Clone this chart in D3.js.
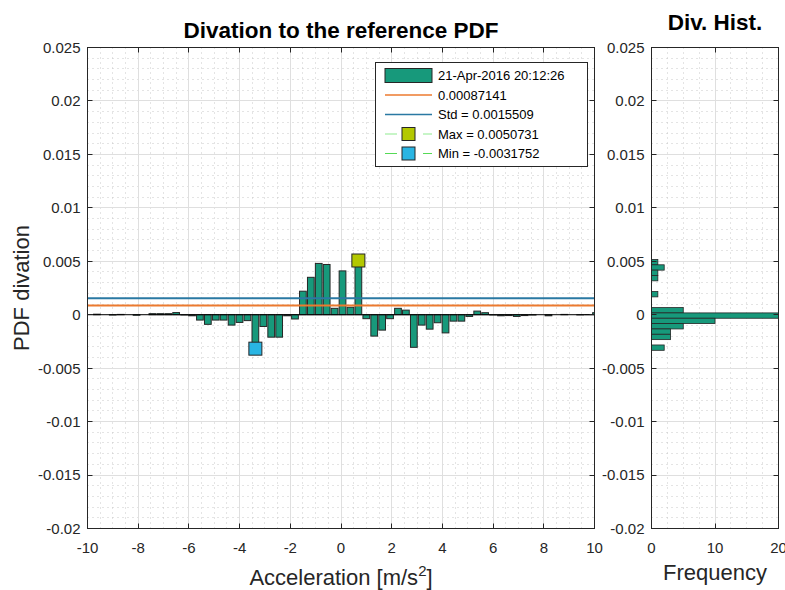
<!DOCTYPE html>
<html>
<head>
<meta charset="utf-8">
<script src="https://cdnjs.cloudflare.com/ajax/libs/d3/7.8.5/d3.min.js"></script>
<style>
  html, body { margin: 0; padding: 0; background: #fff; }
  svg { display: block; font-family: "Liberation Sans", Arial, sans-serif; }
</style>
</head>
<body>
<svg id="chart" width="785" height="590"></svg>
<script>
// Bin centres of the acceleration axis [m/s^2]
const accelCenters = [
  -9.940, -9.628, -9.315, -9.003, -8.690, -8.378, -8.065, -7.753, -7.440, -7.128,
  -6.815, -6.503, -6.190, -5.878, -5.565, -5.253, -4.940, -4.628, -4.315, -4.003,
  -3.690, -3.378, -3.065, -2.753, -2.440, -2.128, -1.815, -1.503, -1.190, -0.878,
  -0.565, -0.253,  0.060,  0.373,  0.685,  0.998,  1.310,  1.623,  1.935,  2.248,
   2.560,  2.873,  3.185,  3.498,  3.810,  4.123,  4.435,  4.748,  5.060,  5.373,
   5.685,  5.998,  6.310,  6.623,  6.935,  7.248,  7.560,  7.873,  8.185,  8.498,
   8.810,  9.123,  9.435,  9.748, 10.060
];
// Deviation of the measured PDF from the reference PDF, per bin
const pdfDeviation = [
   0.00000,  0.00005,  0.00000, -0.00003,  0.00003,  0.00000, -0.00005,  0.00000,  0.00010,  0.00010,
   0.00010,  0.00020, -0.00003, -0.00010, -0.00050, -0.00090, -0.00050, -0.00050, -0.00097, -0.00072,
  -0.00055, -0.0031752, -0.00110, -0.00210, -0.00210, -0.00010, -0.00040,  0.00220,  0.00350,  0.00480,
   0.00470,  0.00060,  0.00410,  0.00070,  0.0050731, -0.00037, -0.00200, -0.00144, -0.00037,  0.00060,
   0.00043, -0.00305, -0.00097, -0.00135, -0.00075, -0.00170, -0.00060, -0.00060, -0.00016,  0.00034,
   0.00019, -0.00003, -0.00010, -0.00008, -0.00016, -0.00008, -0.00003,  0.00000, -0.00010,  0.00000,
   0.00003,  0.00000, -0.00002,  0.00001,  0.00019
];
// Summary statistics shown in the legend
const meanDeviation = 0.00087141;
const stdDeviation = 0.0015509;
const maxPoint = { x: 0.685, y: 0.0050731 };
const minPoint = { x: -3.378, y: -0.0031752 };
const legendLabels = ["21-Apr-2016 20:12:26", "0.00087141", "Std = 0.0015509", "Max = 0.0050731", "Min = -0.0031752"];

// Histogram of the deviations
const histCenters = [0.00492, 0.00442, 0.00392, 0.00342, 0.00292, 0.00242, 0.00192, 0.00142, 0.00092,
  0.00042, -0.00008, -0.00058, -0.00108, -0.00158, -0.00208, -0.00258, -0.00308];
const histCounts = [1, 2, 1, 1, 0, 0, 1, 0, 0, 5, 31, 10, 5, 3, 3, 0, 2];
const histBinWidth = 0.0005;

// Axis ticks
const xTicks = [-10, -8, -6, -4, -2, 0, 2, 4, 6, 8, 10];
const yTicks = [-0.02, -0.015, -0.01, -0.005, 0, 0.005, 0.01, 0.015, 0.02, 0.025];
const yTickLabels = ["-0.02", "-0.015", "-0.01", "-0.005", "0", "0.005", "0.01", "0.015", "0.02", "0.025"];
const histXTicks = [0, 10, 20];

const INK = "#262626";
const BAR_FILL = "#17997b";
const svg = d3.select("#chart");

const main = { left: 87.5, right: 594.5, top: 47.5, bottom: 528.5 };
const hist = { left: 651.5, right: 778.5, top: 47.5, bottom: 528.5 };

const x = d3.scaleLinear().domain([-10, 10]).range([main.left, main.right]);
const y = d3.scaleLinear().domain([-0.02, 0.025]).range([main.bottom, main.top]);
const hx = d3.scaleLinear().domain([0, 20]).range([hist.left, hist.right]);
const crisp = v => Math.round(v - 0.5) + 0.5;

const defs = svg.append("defs");
defs.append("clipPath").attr("id", "clipMain").append("rect")
  .attr("x", main.left).attr("y", main.top).attr("width", main.right - main.left).attr("height", main.bottom - main.top);
defs.append("clipPath").attr("id", "clipHist").append("rect")
  .attr("x", hist.left).attr("y", hist.top).attr("width", hist.right - hist.left).attr("height", hist.bottom - hist.top);

function drawGrid(g, box, xs, majorX, minorX, majorY, minorY) {
  const gg = g.append("g");
  gg.selectAll(".mnx").data(minorX).join("line")
    .attr("x1", d => crisp(xs(d))).attr("x2", d => crisp(xs(d)))
    .attr("y1", box.top).attr("y2", box.bottom)
    .attr("stroke", "#c9c9c9").attr("stroke-dasharray", "1,4");
  gg.selectAll(".mny").data(minorY).join("line")
    .attr("y1", d => crisp(y(d))).attr("y2", d => crisp(y(d)))
    .attr("x1", box.left).attr("x2", box.right)
    .attr("stroke", "#c9c9c9").attr("stroke-dasharray", "1,4");
  gg.selectAll(".mjx").data(majorX).join("line")
    .attr("x1", d => crisp(xs(d))).attr("x2", d => crisp(xs(d)))
    .attr("y1", box.top).attr("y2", box.bottom)
    .attr("stroke", "#dfdfdf");
  gg.selectAll(".mjy").data(majorY).join("line")
    .attr("y1", d => crisp(y(d))).attr("y2", d => crisp(y(d)))
    .attr("x1", box.left).attr("x2", box.right)
    .attr("stroke", "#dfdfdf");
}

function drawFrame(box, xs, xt, xtLabels) {
  const g = svg.append("g");
  g.append("rect").attr("x", box.left).attr("y", box.top)
    .attr("width", box.right - box.left).attr("height", box.bottom - box.top)
    .attr("fill", "none").attr("stroke", INK);
  const tl = 5;
  xt.forEach(t => {
    const px = crisp(xs(t));
    g.append("line").attr("x1", px).attr("x2", px).attr("y1", box.bottom).attr("y2", box.bottom - tl).attr("stroke", INK);
    g.append("line").attr("x1", px).attr("x2", px).attr("y1", box.top).attr("y2", box.top + tl).attr("stroke", INK);
  });
  yTicks.forEach(t => {
    const py = crisp(y(t));
    g.append("line").attr("x1", box.left).attr("x2", box.left + tl).attr("y1", py).attr("y2", py).attr("stroke", INK);
    g.append("line").attr("x1", box.right).attr("x2", box.right - tl).attr("y1", py).attr("y2", py).attr("stroke", INK);
  });
  g.selectAll(".xl").data(xt).join("text")
    .attr("x", d => xs(d)).attr("y", 553)
    .attr("text-anchor", "middle").attr("font-size", 15).attr("fill", INK)
    .text((d, i) => xtLabels[i]);
  g.selectAll(".yl").data(yTicks).join("text")
    .attr("x", box.left - 7).attr("y", d => y(d)).attr("dy", "0.36em")
    .attr("text-anchor", "end").attr("font-size", 15).attr("fill", INK)
    .text((d, i) => yTickLabels[i]);
}

// ---------- Main panel ----------
const minorY = d3.range(-0.02, 0.0251, 0.001).filter(v => Math.abs(Math.round(v / 0.005) * 0.005 - v) > 1e-6);
const minorXMain = d3.range(-10, 10.01, 0.5).filter(v => Math.abs(v % 2) > 1e-6);
drawGrid(svg, main, x, xTicks.slice(1, -1), minorXMain, yTicks.slice(1, -1), minorY);

const plot = svg.append("g").attr("clip-path", "url(#clipMain)");
const bw = 0.3125 * 0.85;
plot.selectAll("rect.bar").data(accelCenters.map((c, i) => ({ c, v: pdfDeviation[i] })))
  .join("rect").attr("class", "bar")
  .attr("x", d => x(d.c - bw / 2))
  .attr("width", d => x(d.c + bw / 2) - x(d.c - bw / 2))
  .attr("y", d => y(Math.max(0, d.v)))
  .attr("height", d => Math.abs(y(d.v) - y(0)))
  .attr("fill", BAR_FILL).attr("stroke", INK).attr("stroke-width", 1);

// bar baseline
plot.append("line").attr("x1", main.left).attr("x2", main.right)
  .attr("y1", y(0)).attr("y2", y(0)).attr("stroke", "#000").attr("stroke-width", 1);

// mean and std lines
plot.append("line").attr("x1", main.left).attr("x2", main.right)
  .attr("y1", y(meanDeviation)).attr("y2", y(meanDeviation))
  .attr("stroke", "#ec7a2f").attr("stroke-width", 2);
plot.append("line").attr("x1", main.left).attr("x2", main.right)
  .attr("y1", y(stdDeviation)).attr("y2", y(stdDeviation))
  .attr("stroke", "#2a79a3").attr("stroke-width", 2);

// max / min markers
const ms = 13;
plot.append("rect").attr("x", x(maxPoint.x) - ms / 2).attr("y", y(maxPoint.y) - ms / 2)
  .attr("width", ms).attr("height", ms).attr("fill", "#b3c800").attr("stroke", INK);
plot.append("rect").attr("x", x(minPoint.x) - ms / 2).attr("y", y(minPoint.y) - ms / 2)
  .attr("width", ms).attr("height", ms).attr("fill", "#29b5e3").attr("stroke", INK);

drawFrame(main, x, xTicks, xTicks.map(String));

// ---------- Histogram panel ----------
const minorXHist = [2.5, 5, 7.5, 12.5, 15, 17.5];
drawGrid(svg, hist, hx, [10], minorXHist, yTicks.slice(1, -1), minorY);
const hplot = svg.append("g").attr("clip-path", "url(#clipHist)");
hplot.selectAll("rect.hb").data(histCenters.map((c, i) => ({ c, n: histCounts[i] })).filter(d => d.n > 0))
  .join("rect").attr("class", "hb")
  .attr("x", hx(0))
  .attr("width", d => hx(d.n) - hx(0))
  .attr("y", d => y(d.c + histBinWidth / 2))
  .attr("height", d => y(d.c - histBinWidth / 2) - y(d.c + histBinWidth / 2))
  .attr("fill", BAR_FILL).attr("stroke", INK).attr("stroke-width", 0.8);
drawFrame(hist, hx, histXTicks, histXTicks.map(String));

// ---------- Titles and labels ----------
svg.append("text").attr("x", (main.left + main.right) / 2).attr("y", 38)
  .attr("text-anchor", "middle").attr("font-size", 22.5).attr("font-weight", "bold").attr("fill", "#000")
  .text("Divation to the reference PDF");
svg.append("text").attr("x", (hist.left + hist.right) / 2).attr("y", 30)
  .attr("text-anchor", "middle").attr("font-size", 22.5).attr("font-weight", "bold").attr("fill", "#000")
  .text("Div. Hist.");

const xl = svg.append("text").attr("x", (main.left + main.right) / 2).attr("y", 585)
  .attr("text-anchor", "middle").attr("font-size", 22).attr("fill", INK);
xl.append("tspan").text("Acceleration [m/s");
xl.append("tspan").attr("font-size", 15).attr("dy", -9).text("2");
xl.append("tspan").attr("dy", 9).text("]");

svg.append("text").attr("x", (hist.left + hist.right) / 2).attr("y", 580)
  .attr("text-anchor", "middle").attr("font-size", 22).attr("fill", INK).text("Frequency");

svg.append("text").attr("transform", `translate(29,${(main.top + main.bottom) / 2}) rotate(-90)`)
  .attr("text-anchor", "middle").attr("font-size", 22).attr("fill", INK).text("PDF divation");

// ---------- Legend ----------
const lg = svg.append("g");
lg.append("rect").attr("x", 375.5).attr("y", 62.5).attr("width", 212).attr("height", 104)
  .attr("fill", "#fff").attr("stroke", INK);
const rowsY = [75.5, 95, 114.5, 134, 153.5];
lg.append("rect").attr("x", 385).attr("y", rowsY[0] - 7).attr("width", 47).attr("height", 14)
  .attr("fill", BAR_FILL).attr("stroke", INK);
lg.append("line").attr("x1", 385).attr("x2", 432).attr("y1", rowsY[1]).attr("y2", rowsY[1])
  .attr("stroke", "#ec7a2f").attr("stroke-width", 1.5);
lg.append("line").attr("x1", 385).attr("x2", 432).attr("y1", rowsY[2]).attr("y2", rowsY[2])
  .attr("stroke", "#2a79a3").attr("stroke-width", 1.5);
[[rowsY[3], "#8fec8f", "#b3c800"], [rowsY[4], "#55da55", "#29b5e3"]].forEach(([ry, lc, fc]) => {
  lg.append("line").attr("x1", 385).attr("x2", 432).attr("y1", ry).attr("y2", ry)
    .attr("stroke", lc).attr("stroke-width", 1.2).attr("stroke-dasharray", "12,26");
  lg.append("rect").attr("x", 408.5 - 6.5).attr("y", ry - 6.5).attr("width", 13).attr("height", 13)
    .attr("fill", fc).attr("stroke", INK);
});
lg.selectAll("text.lt").data(legendLabels).join("text").attr("class", "lt")
  .attr("x", 438).attr("y", (d, i) => rowsY[i]).attr("dy", "0.36em")
  .attr("font-size", 13).attr("fill", "#000").text(d => d);
</script>
</body>
</html>
